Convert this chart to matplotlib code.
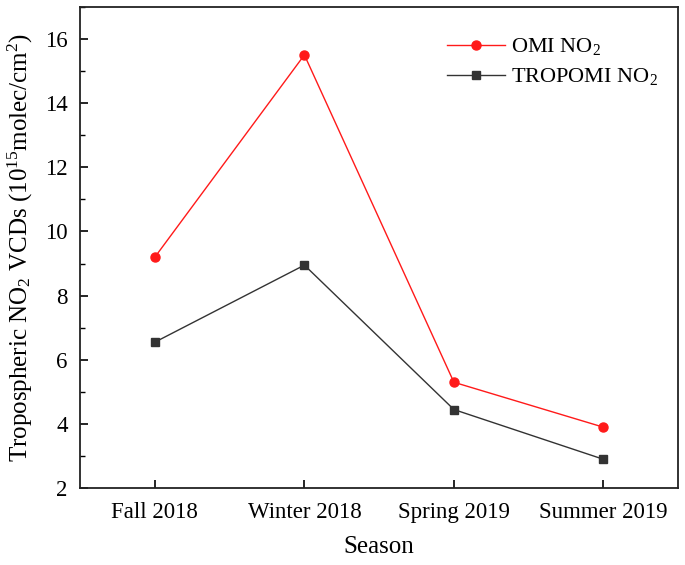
"""Seasonal NO2 VCDs, OMI vs TROPOMI"""
import matplotlib
matplotlib.use("Agg")
from matplotlib import pyplot as plt
from matplotlib.ticker import MultipleLocator

plt.rcParams["font.family"] = ["Liberation Serif", "DejaVu Serif"]
plt.rcParams["mathtext.fontset"] = "custom"
plt.rcParams["mathtext.rm"] = "Liberation Serif"
plt.rcParams["mathtext.it"] = "Liberation Serif:italic"

seasons = ["Fall 2018", "Winter 2018", "Spring 2019", "Summer 2019"]
omi = [9.2, 15.5, 5.3, 3.9]
tropomi = [6.55, 8.95, 4.45, 2.9]

fig, ax = plt.subplots(figsize=(6.85, 5.65), dpi=100)
fig.subplots_adjust(left=0.117, right=0.99, bottom=0.136, top=0.988)

x = list(range(len(seasons)))
ax.plot(x, omi, color="#ff1a1a", lw=1.0, marker="o", ms=6.5, label="OMI NO$_2$")
ax.plot(x, tropomi, color="#333333", lw=1.0, marker="s", ms=5.5, label="TROPOMI NO$_2$")

ax.set_xlim(-0.5, 3.5)
ax.set_ylim(2, 17)
ax.set_xticks(x)
ax.set_xticklabels(seasons)
ax.yaxis.set_major_locator(MultipleLocator(2))
ax.yaxis.set_minor_locator(MultipleLocator(1))
ax.tick_params(axis="both", which="both", direction="in", labelsize=16.5)
ax.tick_params(which="major", length=6, width=1.2)
ax.tick_params(which="minor", length=3.5, width=1.0)
ax.tick_params(axis="x", pad=10)
ax.tick_params(axis="y", pad=9)
for s in ax.spines.values():
    s.set_linewidth(1.3)
    s.set_color("#222222")

ax.set_xlabel("Season", fontsize=18, labelpad=9)
ax.set_ylabel("Tropospheric NO$_2$ VCDs (10$^{15}$molec/cm$^2$)", fontsize=18, labelpad=7)

ax.legend(loc="upper right", frameon=False, fontsize=16,
          bbox_to_anchor=(1.0, 0.98), handlelength=2.6, handletextpad=0.3,
          labelspacing=0.4)

fig.savefig("out.png")
